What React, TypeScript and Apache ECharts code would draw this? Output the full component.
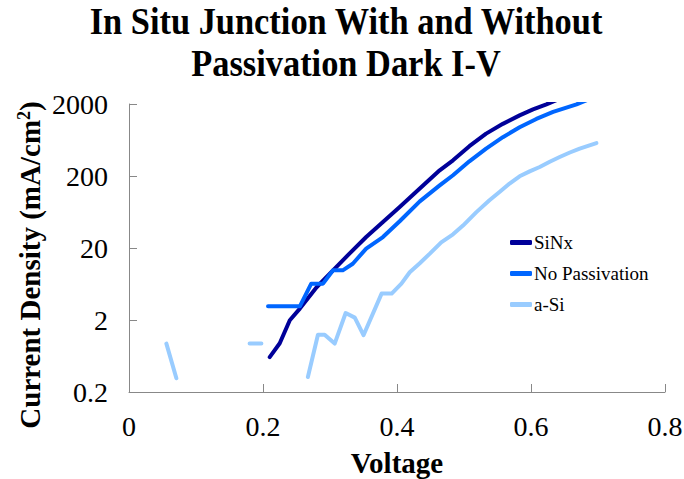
import React, { useEffect, useRef } from "react";
import * as echarts from "echarts";

// ---- data (Voltage in V, current density in mA/cm²; null = gap) ----
const sinxV = [0.21, 0.225, 0.24, 0.255, 0.28, 0.3045, 0.329, 0.354, 0.379, 0.404, 0.434, 0.4637, 0.4836, 0.508, 0.533, 0.558, 0.583, 0.603, 0.623, 0.65];
const sinxJ = [0.61, 0.95, 1.98, 2.88, 5.7, 9.8, 16.7, 28.4, 46, 74, 134, 240, 330, 519, 776, 1060, 1390, 1680, 1980, 2520];

const noPassV = [0.2075, 0.255, 0.272, 0.2896, 0.3045, 0.319, 0.334, 0.354, 0.379, 0.404, 0.434, 0.4637, 0.4836, 0.508, 0.533, 0.558, 0.583, 0.608, 0.633, 0.668, 0.69];
const noPassJ = [3.1, 3.1, 6.4, 6.4, 9.8, 9.8, 12.1, 19.6, 28.4, 47, 89, 148, 205, 320, 481, 692, 949, 1240, 1550, 1980, 2400];

const aSiV = [0.0558, 0.0707, 0.12, 0.18, 0.1976, 0.23, 0.267, 0.282, 0.292, 0.307, 0.3234, 0.337, 0.35, 0.377, 0.392, 0.4066, 0.419, 0.434, 0.449, 0.466, 0.4836, 0.4985, 0.5185, 0.538, 0.553, 0.568, 0.583, 0.598, 0.613, 0.628, 0.6428, 0.658, 0.6727, 0.6976];
const aSiJ = [0.94, 0.31, null, 0.94, 0.94, null, 0.323, 1.25, 1.25, 0.94, 2.5, 2.16, 1.23, 4.65, 4.65, 6.4, 9.2, 12.3, 16.7, 24, 31, 41, 63, 92, 120, 157, 198, 232, 267, 316, 367, 424, 481, 574];

const seriesNames = ["SiNx", "No Passivation", "a-Si"];
const seriesColors = ["#000099", "#0066FF", "#99CCFF"];

const yTickLabels = ["0.2", "2", "20", "200", "2000"];
const xTickLabels = ["0", "0.2", "0.4", "0.6", "0.8"];
const yBase = 0.2;

const toPoints = (vs: number[], js: (number | null)[]) =>
  vs.map((v, i) => {
    const j = js[i];
    return j == null ? [v, "-"] : [v, Math.log10(j / yBase)];
  });

const FONT = "Liberation Serif";

export default function App() {
  const ref = useRef<HTMLDivElement>(null);
  useEffect(() => {
    if (!ref.current) return;
    const chart = echarts.init(ref.current, undefined, { renderer: "svg" });
    const data = [toPoints(sinxV, sinxJ), toPoints(noPassV, noPassJ), toPoints(aSiV, aSiJ)];
    chart.setOption({
      animation: false,
      backgroundColor: "#ffffff",
      textStyle: { fontFamily: FONT },
      grid: { left: 129, right: 19, top: 104, bottom: 87, containLabel: false, outerBoundsMode: "none" },
      graphic: [
        {
          type: "text",
          x: 346,
          y: 43,
          scaleX: 0.93,
          style: {
            text: "In Situ Junction With and Without\nPassivation Dark I-V",
            font: `bold 37px '${FONT}'`,
            lineHeight: 42,
            fill: "#000",
            textAlign: "center",
            textVerticalAlign: "middle",
          },
        },
        {
          type: "text",
          x: 30,
          y: 265,
          rotation: Math.PI / 2,
          style: {
            text: "{a|Current Density (mA/cm}{s|2}{a|)}",
            textAlign: "center",
            textVerticalAlign: "middle",
            fill: "#000",
            rich: {
              a: { fontFamily: FONT, fontWeight: "bold", fontSize: 29, lineHeight: 30, fill: "#000" },
              s: { fontFamily: FONT, fontWeight: "bold", fontSize: 18, lineHeight: 30, verticalAlign: "top", fill: "#000" },
            },
          },
        },
      ],
      legend: {
        orient: "vertical",
        left: 505,
        top: 228,
        itemWidth: 22,
        itemHeight: 5,
        itemGap: 12,
        icon: "roundRect",
        data: seriesNames,
        textStyle: { fontFamily: FONT, fontSize: 19, color: "#000", padding: [0, 0, 0, -3] },
      },
      xAxis: {
        type: "value",
        min: 0,
        max: 0.8,
        interval: 0.2,
        name: "Voltage",
        nameLocation: "middle",
        nameGap: 56,
        nameTextStyle: { fontFamily: FONT, fontWeight: "bold", fontSize: 29, color: "#000" },
        axisLine: { lineStyle: { color: "#888", width: 1 } },
        axisTick: { inside: true, length: 8, lineStyle: { color: "#888" } },
        axisLabel: {
          margin: 20,
          fontFamily: FONT,
          fontSize: 28,
          color: "#000",
          formatter: (v: number) => xTickLabels[Math.round(v / 0.2)] ?? "",
        },
        splitLine: { show: false },
      },
      yAxis: {
        type: "value",
        min: 0,
        max: 4,
        interval: 1,
        axisLine: { show: true, lineStyle: { color: "#888", width: 1 } },
        axisTick: { show: true, inside: true, length: 8, lineStyle: { color: "#888" } },
        axisLabel: {
          margin: 21,
          fontFamily: FONT,
          fontSize: 28,
          color: "#000",
          formatter: (v: number) => yTickLabels[Math.round(v)] ?? "",
        },
        splitLine: { show: false },
      },
      series: seriesNames.map((name, i) => ({
        name,
        type: "line",
        data: data[i],
        showSymbol: false,
        symbol: "none",
        connectNulls: false,
        clip: true,
        color: seriesColors[i],
        lineStyle: { width: 4, color: seriesColors[i], cap: "round", join: "round" },
      })),
    });
    return () => chart.dispose();
  }, []);
  return <div ref={ref} style={{ position: "fixed", left: 0, top: 0, width: 684, height: 479 }} />;
}
